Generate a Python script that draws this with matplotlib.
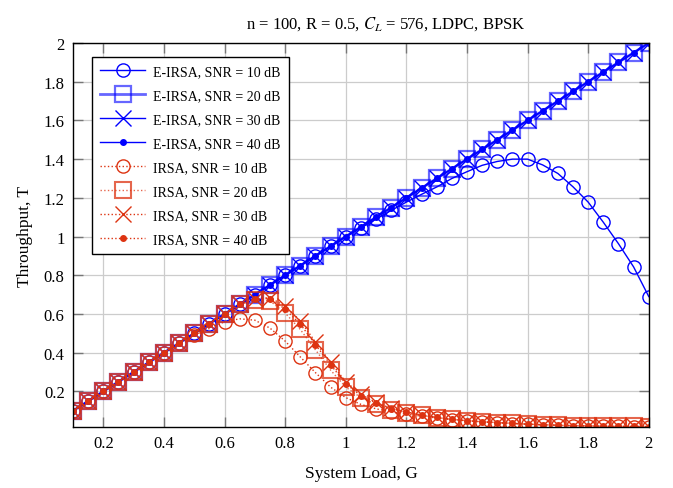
import matplotlib
matplotlib.use("Agg")
import matplotlib.pyplot as plt

plt.rcParams['font.family'] = ['Liberation Serif', 'DejaVu Serif']
plt.rcParams['mathtext.fontset'] = 'stix'

# system load G
load = [0.1, 0.15, 0.2, 0.25, 0.3, 0.35, 0.4, 0.45, 0.5, 0.55,
        0.6, 0.65, 0.7, 0.75, 0.8, 0.85, 0.9, 0.95, 1.0, 1.05,
        1.1, 1.15, 1.2, 1.25, 1.3, 1.35, 1.4, 1.45, 1.5, 1.55,
        1.6, 1.65, 1.7, 1.75, 1.8, 1.85, 1.9, 1.95, 2.0]

# E-IRSA throughput
eirsa_10 = [0.1, 0.15, 0.2, 0.25, 0.3, 0.35, 0.4, 0.45, 0.5, 0.55,
            0.6, 0.65, 0.7, 0.75, 0.8, 0.85, 0.9, 0.95, 1.0, 1.045,
            1.09, 1.135, 1.178, 1.218, 1.256, 1.3, 1.335, 1.368, 1.388, 1.4,
            1.4, 1.37, 1.326, 1.257, 1.178, 1.074, 0.963, 0.843, 0.69]
eirsa_20 = [0.1, 0.15, 0.2, 0.25, 0.3, 0.35, 0.4, 0.45, 0.5, 0.55,
            0.6, 0.65, 0.7, 0.75, 0.8, 0.85, 0.9, 0.95, 1.0, 1.05,
            1.1, 1.15, 1.2, 1.25, 1.3, 1.35, 1.4, 1.45, 1.5, 1.55,
            1.6, 1.65, 1.7, 1.75, 1.8, 1.85, 1.9, 1.95, 2.0]
eirsa_30 = list(eirsa_20)
eirsa_40 = list(eirsa_20)

# IRSA throughput
irsa_10 = [0.1, 0.15, 0.2, 0.25, 0.3, 0.35, 0.4, 0.45, 0.49, 0.525,
           0.56, 0.575, 0.568, 0.527, 0.46, 0.378, 0.297, 0.222, 0.168, 0.133,
           0.11, 0.095, 0.083, 0.072, 0.063, 0.054, 0.048, 0.042, 0.038, 0.034,
           0.03, 0.027, 0.025, 0.023, 0.021, 0.02, 0.019, 0.018, 0.018]
irsa_20 = [0.1, 0.15, 0.2, 0.25, 0.3, 0.35, 0.4, 0.45, 0.5, 0.55,
           0.6, 0.65, 0.67, 0.668, 0.605, 0.52, 0.415, 0.31, 0.222, 0.168,
           0.133, 0.106, 0.09, 0.076, 0.065, 0.055, 0.049, 0.043, 0.039, 0.035,
           0.031, 0.028, 0.025, 0.023, 0.022, 0.02, 0.019, 0.019, 0.018]
irsa_30 = [0.1, 0.15, 0.2, 0.25, 0.3, 0.35, 0.4, 0.45, 0.5, 0.55,
           0.6, 0.65, 0.678, 0.685, 0.64, 0.565, 0.455, 0.35, 0.25, 0.185,
           0.143, 0.112, 0.094, 0.078, 0.066, 0.056, 0.049, 0.043, 0.039, 0.035,
           0.031, 0.028, 0.025, 0.023, 0.022, 0.02, 0.019, 0.019, 0.018]
irsa_40 = [0.1, 0.15, 0.2, 0.25, 0.3, 0.35, 0.4, 0.45, 0.5, 0.55,
           0.6, 0.65, 0.675, 0.68, 0.625, 0.548, 0.442, 0.338, 0.24, 0.178,
           0.14, 0.11, 0.093, 0.077, 0.066, 0.055, 0.049, 0.043, 0.039, 0.035,
           0.031, 0.028, 0.025, 0.023, 0.022, 0.02, 0.019, 0.019, 0.018]

blue = '#0000ff'
red = '#dd3311'

fig = plt.figure(figsize=(6.73, 4.89), dpi=100)
ax = fig.add_axes([0.1085, 0.1247, 0.8555, 0.7853])

ax.plot(load, eirsa_10, color=blue, lw=1, marker='o', ms=9.5, mfc='none', mew=1,
        label='E-IRSA, SNR = 10 dB')
ax.plot(load, eirsa_20, color=blue, lw=2, alpha=0.6, marker='s', ms=11.5, mfc='none', mew=1.6,
        label='E-IRSA, SNR = 20 dB')
ax.plot(load, eirsa_30, color=blue, lw=1, marker='x', ms=11, mew=1,
        label='E-IRSA, SNR = 30 dB')
ax.plot(load, eirsa_40, color=blue, lw=1, marker='o', ms=4, mfc=blue,
        label='E-IRSA, SNR = 40 dB')

ax.plot(load, irsa_10, color=red, lw=1, ls=':', marker='o', ms=9.5, mfc='none', mew=1,
        label='IRSA, SNR = 10 dB')
ax.plot(load, irsa_20, color=red, lw=1, ls=':', alpha=0.75, marker='s', ms=11.5, mfc='none', mew=1.5,
        label='IRSA, SNR = 20 dB')
ax.plot(load, irsa_30, color=red, lw=1, ls=':', marker='x', ms=11, mew=1,
        label='IRSA, SNR = 30 dB')
ax.plot(load, irsa_40, color=red, lw=1, ls=':', marker='o', ms=4, mfc=red,
        label='IRSA, SNR = 40 dB')

ax.set_xlim(0.1, 2.0)
ax.set_ylim(0.016, 2.0)
ticks = [0.2, 0.4, 0.6, 0.8, 1.0, 1.2, 1.4, 1.6, 1.8, 2.0]
tick_labels = ['0.2', '0.4', '0.6', '0.8', '1', '1.2', '1.4', '1.6', '1.8', '2']
ax.set_xticks(ticks)
ax.set_xticklabels(tick_labels)
ax.set_yticks(ticks)
ax.set_yticklabels(tick_labels)
ax.tick_params(direction='in', top=True, right=True, length=7, width=1,
               color='#777777', labelsize=12, pad=6)
ax.grid(True, color='#cccccc', lw=0.9)
ax.set_axisbelow(True)
for s in ax.spines.values():
    s.set_linewidth(1)

ax.set_xlabel('System Load, G', fontsize=12.5, labelpad=10)
ax.set_ylabel('Throughput, T', fontsize=12.5, labelpad=8)
ax.set_title('n = 100, R = 0.5, $C_L$ = 576, LDPC, BPSK', fontsize=12, pad=11, x=0.543)

leg = ax.legend(loc='upper left', bbox_to_anchor=(0.033, 0.964), borderaxespad=0,
                fontsize=10, fancybox=False, edgecolor='black', framealpha=1,
                handlelength=3.2, handletextpad=0.6, labelspacing=0.79, borderpad=0.6)
leg.get_frame().set_linewidth(1)

fig.savefig('out.png', dpi=100)
